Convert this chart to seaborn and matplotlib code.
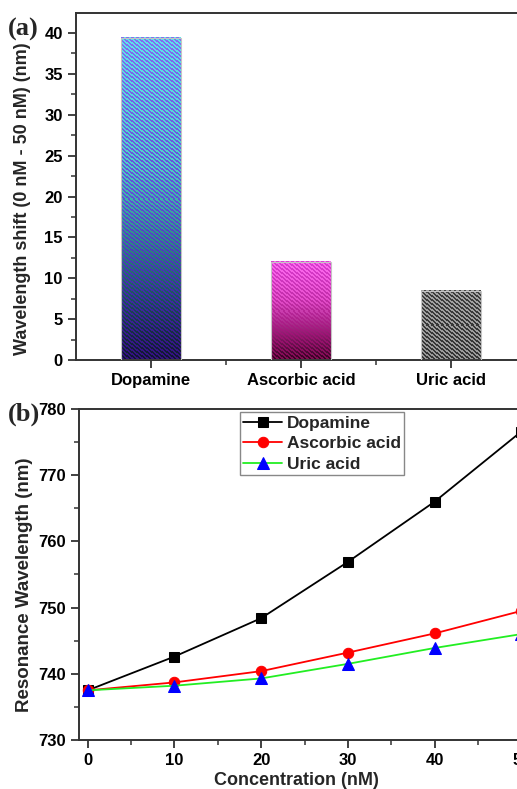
import numpy as np
import pandas as pd
import matplotlib
matplotlib.use("Agg")
import matplotlib.pyplot as plt
from matplotlib.ticker import MultipleLocator, FixedLocator
import seaborn as sns

# Panel (a): total wavelength shift between 0 nM and 50 nM
categories = ["Dopamine", "Ascorbic acid", "Uric acid"]
shift_nm = [39.4, 12.0, 8.5]

# Panel (b): resonance wavelength versus analyte concentration
concentration_nM = [0, 10, 20, 30, 40, 50]
dopamine_nm = [737.5, 742.6, 748.4, 756.9, 766.0, 776.6]
ascorbic_nm = [737.5, 738.7, 740.4, 743.2, 746.1, 749.5]
uric_nm = [737.5, 738.2, 739.3, 741.5, 743.9, 746.0]

sns.set_theme(style="ticks")
plt.rcParams.update({
    "font.family": ["Liberation Sans", "DejaVu Sans"],
    "font.weight": "bold",
    "axes.labelweight": "bold",
    "axes.edgecolor": "#333333",
    "axes.linewidth": 1.4,
    "xtick.color": "#333333",
    "ytick.color": "#333333",
    "xtick.labelcolor": "black",
    "ytick.labelcolor": "black",
    "xtick.direction": "out",
    "ytick.direction": "out",
    "xtick.labelsize": 12,
    "ytick.labelsize": 12,
})

fig = plt.figure(figsize=(5.17, 7.89), dpi=100, facecolor="white")
ax_a = fig.add_axes([76 / 517, 1 - 360 / 789, 450 / 517, 347 / 789])
ax_b = fig.add_axes([79 / 517, 49 / 789, 451 / 517, 331 / 789])

# ---------------- (a) bar chart with gradient + diagonal stripes ----------------
sns.barplot(x=categories, y=shift_nm, ax=ax_a, width=0.4, color="white",
            edgecolor="#c4c4c4", linewidth=0.8)
ax_a.set_xlim(-0.5, 2.5)
ax_a.set_ylim(0, 42.45)

fills = [
    # (background stops, stripe stops) from top (0) to bottom (1)
    ([(0.0, (0.36, 0.90, 0.92)), (0.4, (0.30, 0.82, 0.78)), (0.6, (0.18, 0.60, 0.55)),
      (0.8, (0.10, 0.34, 0.36)), (1.0, (0.06, 0.08, 0.18))],
     [(0.0, (0.52, 0.42, 0.95)), (0.5, (0.38, 0.30, 0.85)), (0.8, (0.26, 0.16, 0.66)),
      (1.0, (0.20, 0.06, 0.50))]),
    ([(0.0, (1.00, 0.42, 0.95)), (0.4, (0.90, 0.30, 0.80)), (0.75, (0.55, 0.10, 0.42)),
      (1.0, (0.20, 0.00, 0.12))],
     [(0.0, (0.86, 0.24, 0.82)), (0.4, (0.76, 0.18, 0.66)), (0.75, (0.62, 0.08, 0.46)),
      (1.0, (0.50, 0.04, 0.32))]),
    ([(0.0, (0.24, 0.24, 0.24)), (1.0, (0.20, 0.20, 0.20))],
     [(0.0, (0.64, 0.64, 0.64)), (1.0, (0.60, 0.60, 0.60))]),
]


def ramp(t, stops):
    pos = [s[0] for s in stops]
    return np.stack([np.interp(t, pos, [s[1][k] for s in stops]) for k in range(3)], axis=-1)


for patch, (bg_stops, st_stops) in zip(ax_a.patches, fills):
    x0, y0 = patch.get_x(), patch.get_y()
    w, h = patch.get_width(), patch.get_height()
    (px0, py0), (px1, py1) = ax_a.transData.transform([(x0, y0), (x0 + w, y0 + h)])
    nw = max(int(round(px1 - px0)), 1)
    nh = max(int(round(py1 - py0)), 1)
    rows, cols = np.mgrid[0:nh, 0:nw]
    t = rows / max(nh - 1, 1)
    stripe = ((0.8 * cols - rows) % 4.0) < 2.0
    img = np.where(stripe[..., None], ramp(t, st_stops), ramp(t, bg_stops))
    ax_a.imshow(img, extent=[x0, x0 + w, y0, y0 + h], aspect="auto",
                interpolation="nearest", zorder=2)
    patch.set_facecolor("none")
    patch.set_zorder(3)

ax_a.set_xlim(-0.5, 2.5)
ax_a.set_ylim(0, 42.45)
ax_a.yaxis.set_major_locator(MultipleLocator(5))
ax_a.yaxis.set_minor_locator(MultipleLocator(2.5))
ax_a.xaxis.set_minor_locator(FixedLocator([0.5, 1.5]))
ax_a.tick_params(which="major", length=6, width=1.3)
ax_a.tick_params(which="minor", length=3.5, width=1.1)
ax_a.spines["right"].set_visible(False)
ax_a.set_xlabel("")
ax_a.set_ylabel("Wavelength shift (0 nM - 50 nM) (nm)", fontsize=13)
ax_a.yaxis.set_label_coords(-0.10, 0.464)

# ---------------- (b) resonance wavelength curves ----------------
series = [
    ("Dopamine", dopamine_nm, "black", "s", "black", 6.5),
    ("Ascorbic acid", ascorbic_nm, "red", "o", "red", 7.5),
    ("Uric acid", uric_nm, "#22ee22", "^", "blue", 8),
]
for name, values, line_color, marker, marker_color, msize in series:
    sns.lineplot(x=concentration_nM, y=values, ax=ax_b, color=line_color, lw=1.3,
                 marker=marker, markersize=msize, markerfacecolor=marker_color,
                 markeredgecolor=marker_color, label=name)

ax_b.set_xlim(-1, 51)
ax_b.set_ylim(730, 780)
ax_b.xaxis.set_major_locator(MultipleLocator(10))
ax_b.xaxis.set_minor_locator(MultipleLocator(5))
ax_b.yaxis.set_major_locator(MultipleLocator(10))
ax_b.yaxis.set_minor_locator(MultipleLocator(5))
ax_b.tick_params(which="major", length=6, width=1.3)
ax_b.tick_params(which="minor", length=3.5, width=1.1)
ax_b.spines["right"].set_visible(False)
ax_b.set_xlabel("Concentration (nM)", fontsize=13)
ax_b.set_ylabel("Resonance Wavelength (nm)", fontsize=13.5)
ax_b.xaxis.set_label_coords(0.483, -0.097)
ax_b.yaxis.set_label_coords(-0.103, 0.47)

leg = ax_b.legend(loc="upper left", bbox_to_anchor=(0.357, 0.99), frameon=True,
                  fancybox=False, edgecolor="#888888", framealpha=1,
                  prop={"weight": "bold", "size": 12.5}, handlelength=2.2,
                  handletextpad=0.3, borderpad=0.2, labelspacing=0.3,
                  borderaxespad=0)
leg.get_frame().set_linewidth(1.0)

# Panel tags
fig.text(8 / 517, 1 - 36 / 789, "(a)", family="Liberation Serif", weight="bold", fontsize=19)
fig.text(8 / 517, 1 - 421 / 789, "(b)", family="Liberation Serif", weight="bold", fontsize=19)

fig.savefig("out.png", dpi=100, facecolor="white")
